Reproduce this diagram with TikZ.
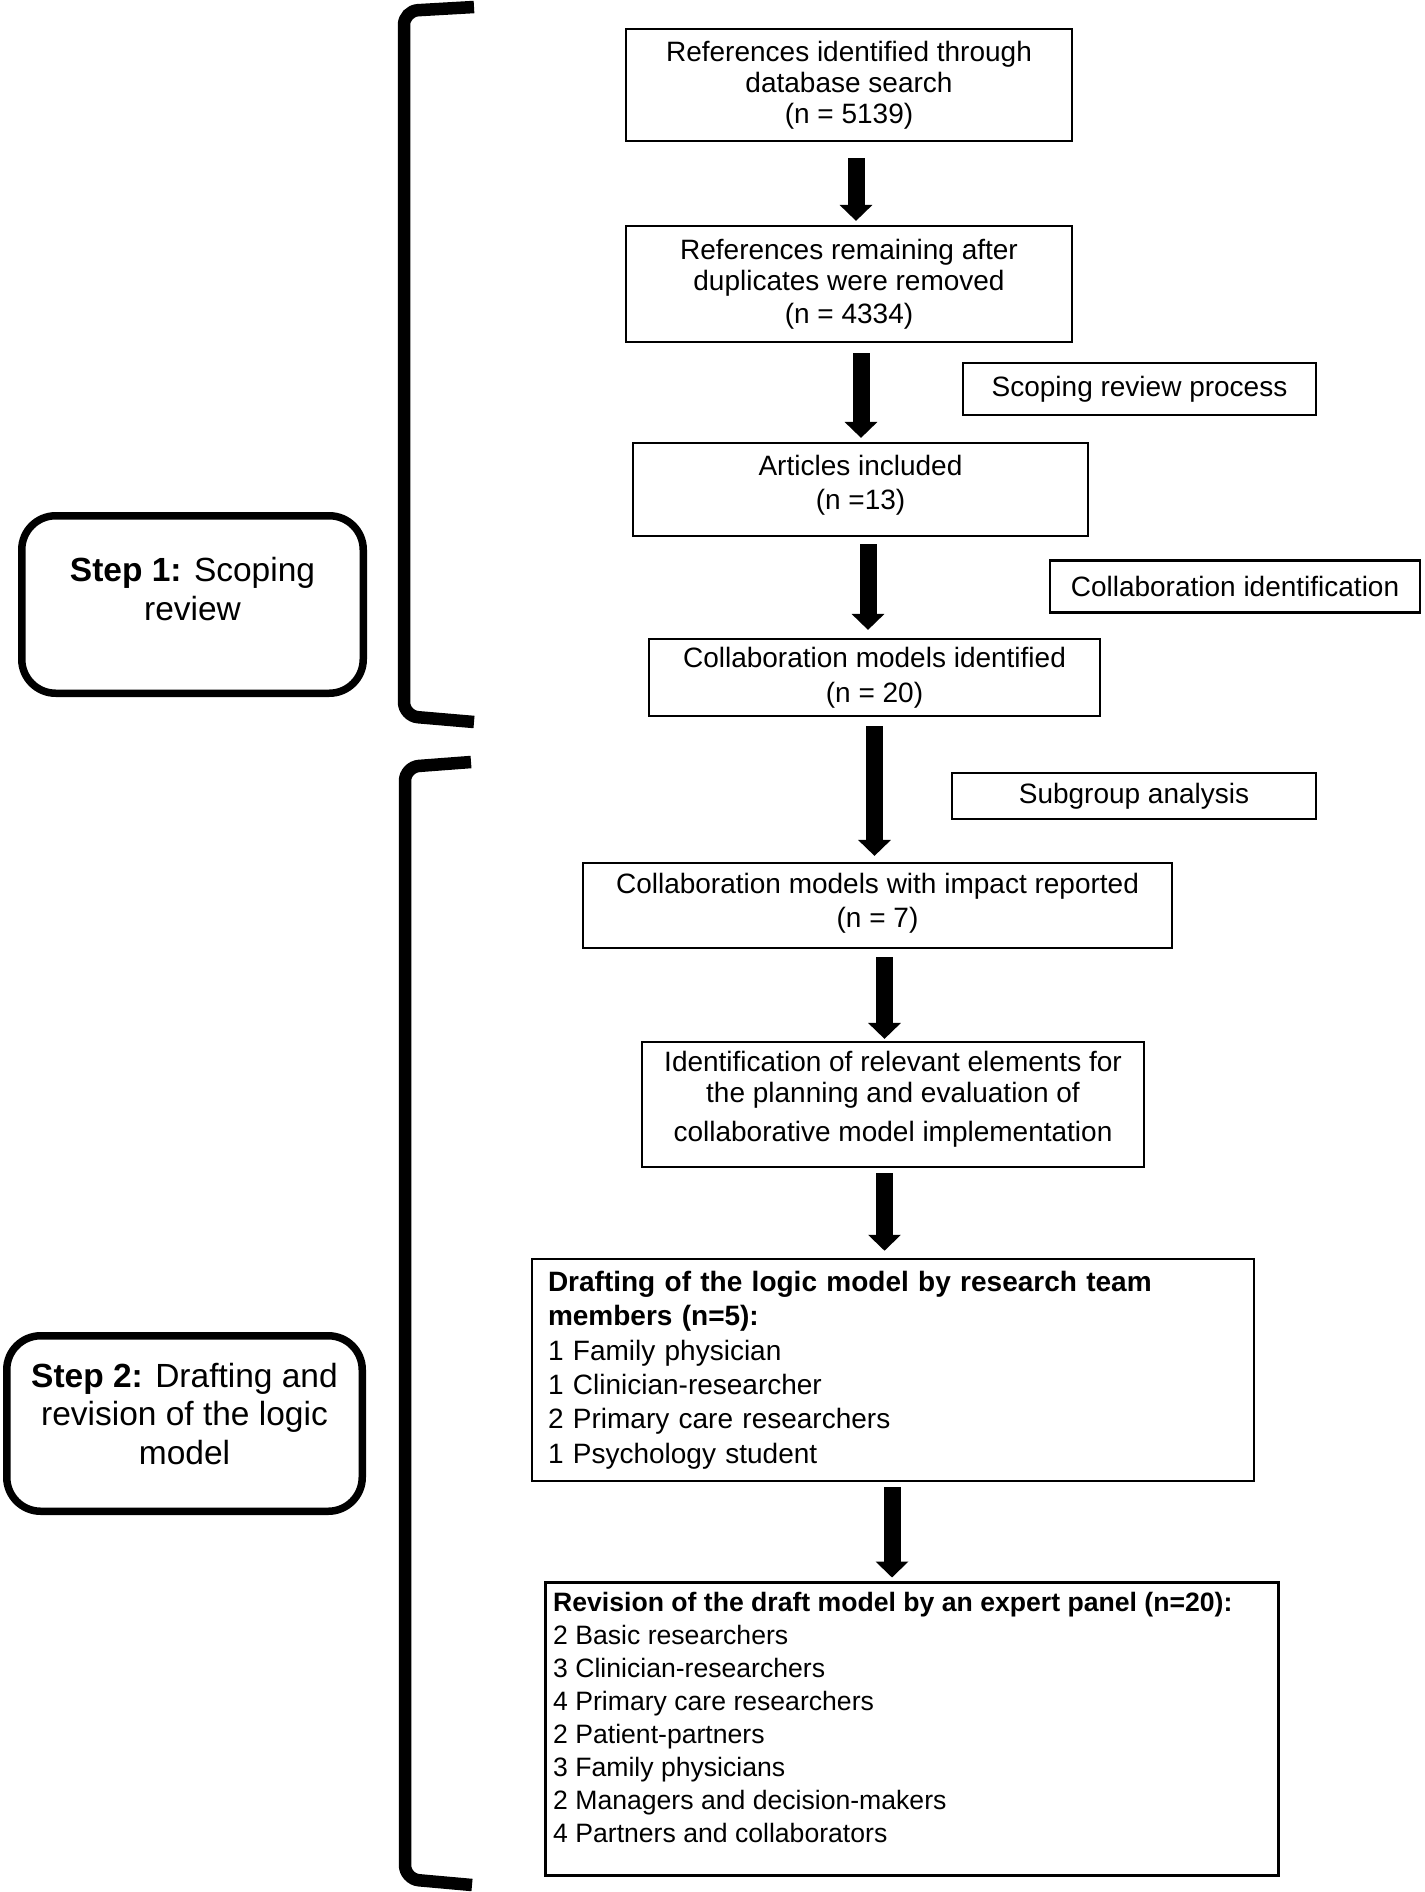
\documentclass[tikz,border=0pt]{standalone}
\usepackage{fontspec}
\setmainfont{Liberation Sans}
\usetikzlibrary{arrows.meta,calc}
\begin{document}
\begin{tikzpicture}[x=1pt,y=-1pt,
  box/.style={draw, line width=2.2pt, align=center, inner sep=0pt, font=\fontsize{28}{31}\selectfont},
  boxtwo/.style={box, font=\fontsize{28}{34.5}\selectfont},
  side/.style={draw, line width=2.2pt, inner sep=0pt, font=\fontsize{28}{31}\selectfont},
  stepbox/.style={draw, line width=7.5pt, rounded corners=34pt},
  steptext/.style={align=center, inner sep=0pt, font=\fontsize{33.5}{38.5}\selectfont},
  bigarrow/.style={line width=17pt, -{Triangle[width=32pt,length=16pt]}},
  bracketline/.style={line width=12.5pt, rounded corners=14pt},
]
\useasboundingbox (0,0) rectangle (1424,1892);

% brackets
\draw[bracketline] (474,7) -- (404,11) -- (404,716) -- (474,722);
\draw[bracketline] (471,762) -- (405,767) -- (405,1879) -- (472,1885);

% step boxes
\node[stepbox, minimum width=341.5pt, minimum height=177.5pt] (st1) at (192.5,604.5) {};
\node[steptext] (st1t) at (192.5,589) {\textbf{Step 1:} Scoping\\review};
\node[stepbox, minimum width=355.5pt, minimum height=175.5pt] (st2) at (184.5,1423.5) {};
\node[steptext] (st2t) at (184.5,1414) {\textbf{Step 2:} Drafting and\\revision of the logic\\model};

% main boxes
\node[box, minimum width=446pt, minimum height=112pt] (b1) at (849,85)
  {References identified through\\database search\\(n = 5139)};
\node[box, minimum width=446pt, minimum height=116pt] (b2) at (849,284)
  {References remaining after\\duplicates were removed\\[2pt](n = 4334)};
\node[boxtwo, minimum width=455pt, minimum height=93pt, text depth=14pt] (b3) at (860.5,489.5)
  {Articles included\\(n =13)};
\node[boxtwo, minimum width=451pt, minimum height=77pt] (b4) at (874.5,677.5)
  {Collaboration models identified\\(n = 20)};
\node[boxtwo, minimum width=589pt, minimum height=85pt, text depth=10pt] (b5) at (877.5,905.5)
  {Collaboration models with impact reported\\(n = 7)};
\node[box, minimum width=502pt, minimum height=125pt, text depth=16pt] (b6) at (893,1104.5)
  {Identification of relevant elements for\\the planning and evaluation of\\[7.5pt]collaborative model implementation};
\node[draw, line width=2.5pt, inner xsep=16pt, inner ysep=0pt, text width=690pt, align=left,
      minimum height=222pt, font=\fontsize{28}{34.4}\selectfont] (b7) at (893,1370)
  {\textbf{Drafting of the logic model by research team}\\
   \textbf{members (n=5):}\\
   1 Family physician\\
   1 Clinician-researcher\\
   2 Primary care researchers\\
   1 Psychology student};
\node[draw, line width=3pt, minimum width=733pt, minimum height=293pt] (b8) at (911.5,1728.5) {};
\node[anchor=north west, inner sep=0pt, align=left, font=\fontsize{26.6}{33}\selectfont] (b8t) at (553,1592)
  {\textbf{Revision of the draft model by an expert panel (n=20):}\\
   2 Basic researchers\\
   3 Clinician-researchers\\
   4 Primary care researchers\\
   2 Patient-partners\\
   3 Family physicians\\
   2 Managers and decision-makers\\
   4 Partners and collaborators};

% side labels
\node[side, minimum width=353pt, minimum height=52pt] (s1) at (1139.5,389) {Scoping review process};
\node[side, minimum width=370pt, minimum height=52pt] (s2) at (1235,586.5) {Collaboration identification};
\node[side, minimum width=364pt, minimum height=46pt] (s3) at (1134,796) {Subgroup analysis};

% arrows
\draw[bigarrow] ($(b1.south)+(7,16)$) -- ($(b2.north)+(7,-4)$);
\draw[bigarrow] ($(b2.south)+(12,10)$) -- ($(b3.north)+(0.5,-4)$);
\draw[bigarrow] ($(b3.south)+(7.5,7)$) -- ($(b4.north)+(-6.5,-8)$);
\draw[bigarrow] ($(b4.south)+(0,9)$) -- ($(b5.north)+(-3,-6)$);
\draw[bigarrow] ($(b5.south)+(7,8)$) -- ($(b6.north)+(-8.5,-2)$);
\draw[bigarrow] ($(b6.south)+(-8.5,5)$) -- ($(b7.north)+(-8.5,-7)$);
\draw[bigarrow] ($(b7.south)+(-1,5)$) -- ($(b8.north)+(-19.5,-3)$);
\end{tikzpicture}
\end{document}
